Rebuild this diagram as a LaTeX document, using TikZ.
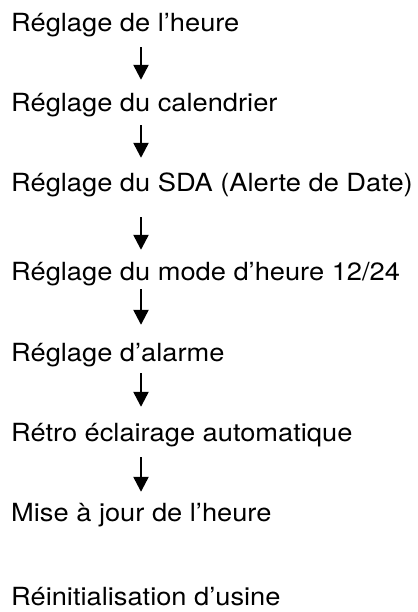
\documentclass[tikz,border=0pt]{standalone}
\usepackage{fontspec}
\setmainfont{TeX Gyre Heros}[FakeStretch=1.09]
\usetikzlibrary{arrows.meta}

\tikzset{
  step label/.style={anchor=base west, inner sep=0pt, text height=17pt, text depth=0pt,
    font=\fontsize{25}{29}\selectfont},
  flow/.style={line width=2.4pt, -{Triangle[length=15pt,width=15pt]}}
}

\begin{document}
\begin{tikzpicture}[x=1pt,y=-1pt]
  \useasboundingbox (0,0) rectangle (417,612);

  % Menu items
  \node[step label] (heure)   at (11,32)  {Réglage de l’heure};
  \node[step label] (cal)     at (11,112) {Réglage du calendrier};
  \node[step label] (sda)     at (11,192) {Réglage du SDA (Alerte de Date)};
  \node[step label] (mode)    at (11,280) {Réglage du mode d’heure 12/24};
  \node[step label] (alarme)  at (11,361) {Réglage d’alarme};
  \node[step label] (retro)   at (11,441) {Rétro éclairage automatique};
  \node[step label] (maj)     at (11,521) {Mise à jour de l’heure};
  \node[step label] (usine)   at (11,605) {Réinitialisation d’usine};

  % Arrows between items
  \foreach \a/\b/\s/\e in {heure/cal/15/15, cal/sda/13/17, sda/mode/25/13,
                           mode/alarme/9/19, alarme/retro/12/17, retro/maj/16/12}
    \draw[flow, shorten <=\s pt, shorten >=\e pt]
      ([xshift=130pt]\a.south west) -- ([xshift=130pt]\b.north west);
\end{tikzpicture}
\end{document}
